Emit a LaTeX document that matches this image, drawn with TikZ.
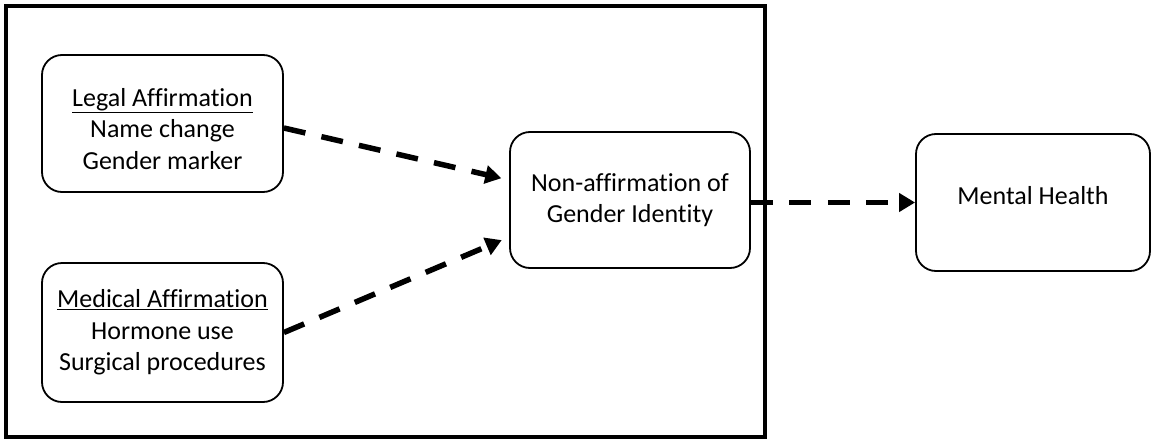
\documentclass[tikz,border=0pt]{standalone}
\usepackage{fontspec}
\setmainfont[RawFeature={-liga;-clig;-dlig}]{Carlito}
\usetikzlibrary{arrows.meta}
\begin{document}
\begin{tikzpicture}[x=1pt,y=-1pt,
  frame/.style={draw, line width=3.5pt, inner sep=0pt, minimum width=759pt, minimum height=431pt},
  box/.style={draw, line width=1.8pt, rounded corners=20pt, align=center,
    font=\fontsize{26}{31.5}\selectfont, inner sep=0pt},
  link/.style={line width=5.5pt, dash pattern=on 22pt off 16.5pt,
    -{Triangle[length=16pt,width=18pt]}}]
\useasboundingbox (0,0) rectangle (1152,442);
\node[frame] (frame) at (385.5,221.5) {};
\node[box, minimum width=241pt, minimum height=137pt] (legal) at (162.5,123.5)
  {\rule{0pt}{29pt}\underline{Legal Affirmation}\\Name change\\Gender marker};
\node[box, minimum width=241pt, minimum height=139pt] (medical) at (162.5,332.5)
  {\underline{Medical Affirmation}\\Hormone use\\Surgical procedures};
\node[box, minimum width=240pt, minimum height=136pt] (nonaff) at (630,200)
  {Non-affirmation of\\Gender Identity};
\node[box, minimum width=234pt, minimum height=137pt, text depth=14pt] (mental) at (1033,202.5)
  {Mental Health};
\draw[link, shorten >=8pt] ([yshift=-4.5pt]legal.east) -- ([yshift=20pt]nonaff.west);
\draw[link, shorten >=8pt] (medical.east) -- ([yshift=-37pt]nonaff.west);
\draw[link] ([yshift=-2.5pt]nonaff.east) -- (mental.west);
\end{tikzpicture}
\end{document}
